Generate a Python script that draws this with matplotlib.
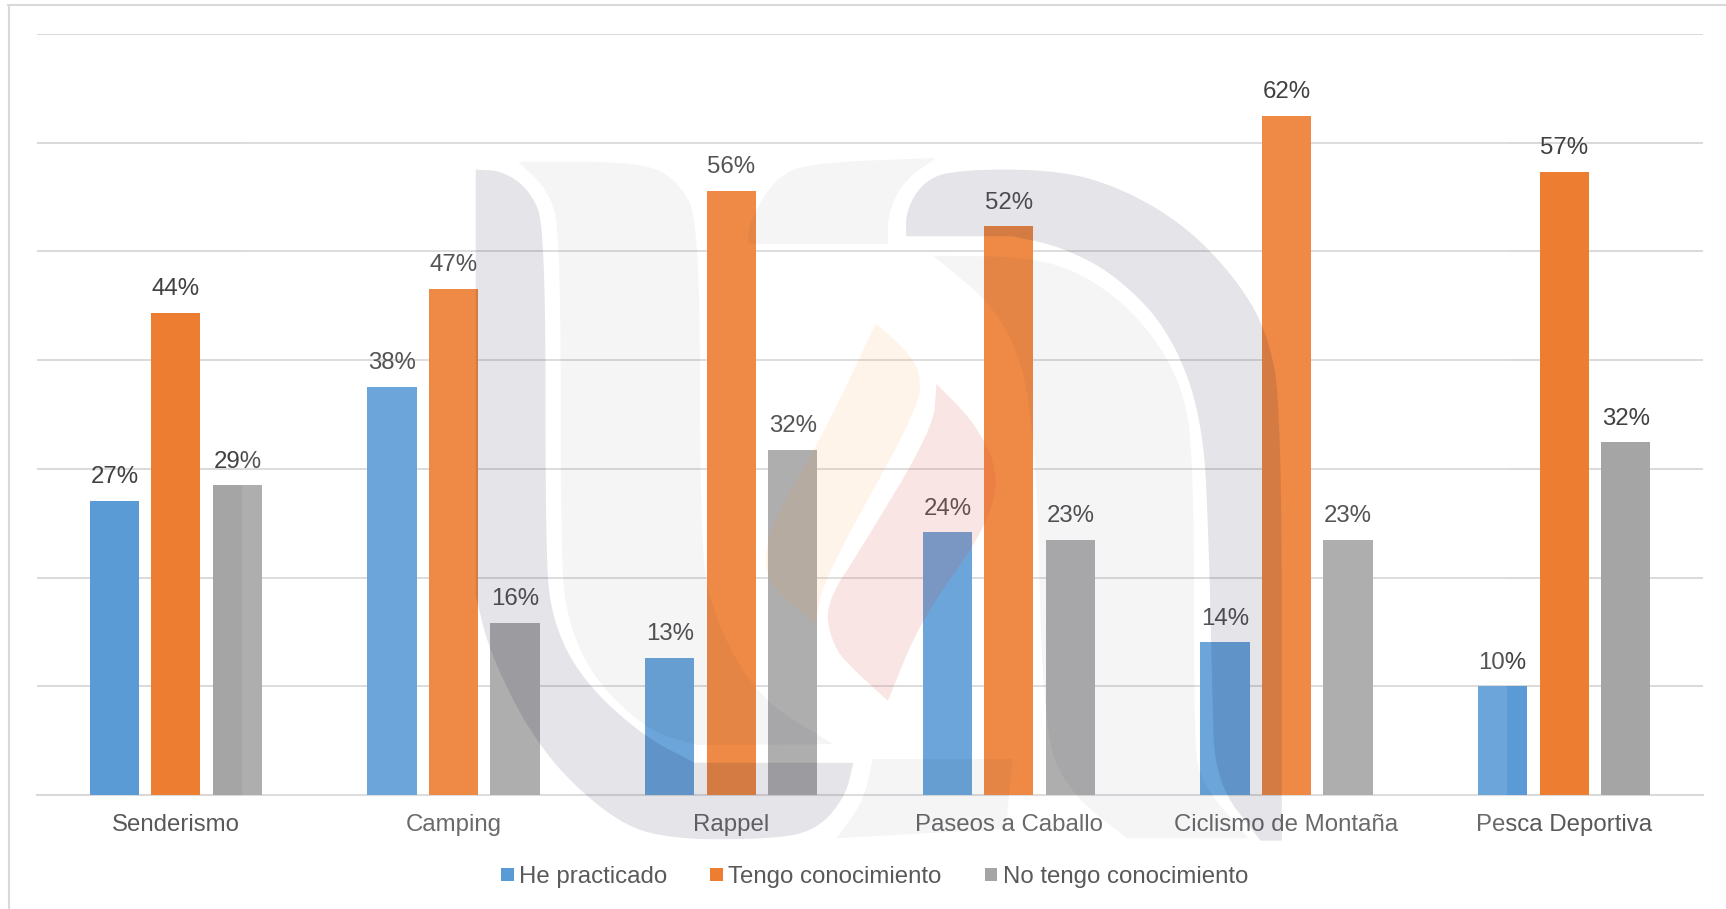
import numpy as np
import matplotlib
matplotlib.use("Agg")
import matplotlib.pyplot as plt
from matplotlib.patches import Polygon, Rectangle
from matplotlib.lines import Line2D

categories = ["Senderismo", "Camping", "Rappel", "Paseos a Caballo", "Ciclismo de Montaña", "Pesca Deportiva"]
series_names = ["He practicado", "Tengo conocimiento", "No tengo conocimiento"]
he_practicado = [27.05, 37.55, 12.6, 24.15, 14.05, 10.0]
tengo_conocimiento = [44.35, 46.55, 55.55, 52.3, 62.45, 57.35]
no_tengo = [28.5, 15.85, 31.75, 23.45, 23.45, 32.45]
he_labels = ["27%", "38%", "13%", "24%", "14%", "10%"]
tengo_labels = ["44%", "47%", "56%", "52%", "62%", "57%"]
no_labels = ["29%", "16%", "32%", "23%", "23%", "32%"]
colors = ["#5B9BD5", "#ED7D31", "#A5A5A5"]

W, H = 1726, 909
plt.rcParams["font.family"] = ["Liberation Sans", "DejaVu Sans"]
FS = 17.3

fig = plt.figure(figsize=(W / 100, H / 100), dpi=100, facecolor="white")
ax = fig.add_axes([37 / W, 1 - 795 / H, 1666 / W, 761 / H])

x = np.arange(len(categories))
pitch, bw = 0.2215, 0.1765
for i, (vals, labs) in enumerate(zip([he_practicado, tengo_conocimiento, no_tengo],
                                     [he_labels, tengo_labels, no_labels])):
    xs = x + (i - 1) * pitch
    ax.bar(xs, vals, bw, color=colors[i], zorder=3, label=series_names[i])
    for xi, v, t in zip(xs, vals, labs):
        ax.annotate(t, (xi, v), xytext=(0, 17.0), textcoords="offset points",
                    ha="center", va="center", fontsize=FS, color="#404040", zorder=4)

ax.set_xlim(-0.5, 5.5)
ax.set_ylim(0, 70)
ax.set_yticks(np.arange(0, 71, 10))
ax.set_yticklabels([])
ax.set_xticks(x)
ax.set_xticklabels(categories, fontsize=FS, color="#595959")
ax.tick_params(axis="both", length=0)
ax.tick_params(axis="x", pad=13.5)
ax.grid(axis="y", color="#D9D9D9", lw=1.4, zorder=0)
ax.set_axisbelow(True)
for s in ["top", "right", "left"]:
    ax.spines[s].set_visible(False)
ax.spines["bottom"].set_color("#D9D9D9")
ax.spines["bottom"].set_linewidth(1.5)

handles, labels = ax.get_legend_handles_labels()
leg = fig.legend(handles, labels, loc="center", bbox_to_anchor=(874.6 / W, 1 - 877 / H), ncol=3,
                 frameon=False, fontsize=FS, labelcolor="#595959", handlelength=0.52, handleheight=0.42,
                 handletextpad=0.22, columnspacing=1.8, borderpad=0, borderaxespad=0)
leg.set_zorder(6)

# outer frame of the chart
fig.add_artist(Line2D([8.5 / W, 8.5 / W], [0, 1 - 5 / H], color="#D9D9D9", lw=1.5, zorder=2))
fig.add_artist(Line2D([8 / W, 1], [1 - 5 / H, 1 - 5 / H], color="#D9D9D9", lw=1.5, zorder=2))


# background watermark: outlines, rounded off
def smooth(pts, rounds=3):
    p = np.array(pts, dtype=float)
    for _ in range(rounds):
        q = np.roll(p, -1, axis=0)
        p = np.column_stack([0.75 * p + 0.25 * q, 0.25 * p + 0.75 * q]).reshape(-1, 2)
    return p


def to_fig(pts):
    pts = np.array(pts, dtype=float)
    fx = (400 + pts[:, 0] / 1.65) / W
    fy = 1 - (130 + pts[:, 1] / 2.146) / H
    return np.column_stack([fx, fy])


def shape(pts, color, alpha):
    fig.add_artist(Polygon(to_fig(smooth(pts)), closed=True, transform=fig.transFigure, facecolor=color,
                           edgecolor="none", alpha=alpha, zorder=1))


fig.add_artist(Rectangle((242 / W, 1 - 860 / H), (1507 - 242) / W, 760 / H, transform=fig.transFigure,
                         facecolor="white", edgecolor="none", alpha=0.104, zorder=1))

tint = (0, 0, 50 / 255)
shape([(125, 85), (125, 85), (170, 88), (215, 130), (240, 210), (240, 900), (250, 1050), (300, 1180), (400, 1300),
       (485, 1357), (485, 1358), (748, 1358), (748, 1358), (735, 1430), (690, 1500), (620, 1522), (430, 1522), (340, 1470),
       (230, 1330), (150, 1130), (125, 1000), (125, 1000)], tint, 0.105)
shape([(835, 228), (835, 228), (835, 175), (860, 115), (910, 85), (1090, 85), (1200, 130), (1300, 210), (1380, 320),
       (1430, 430), (1455, 590), (1455, 1525), (1455, 1525), (1420, 1525), (1420, 1525), (1345, 1400), (1340, 1200), (1335, 900),
       (1325, 620), (1270, 430), (1180, 310), (1090, 250), (1010, 228), (1010, 228)], tint, 0.105)

shape([(195, 68), (195, 68), (400, 68), (460, 110), (495, 200), (495, 880), (515, 1040), (590, 1220), (715, 1318), (715, 1318),
       (490, 1320), (490, 1320), (410, 1290), (320, 1180), (275, 1050), (265, 900), (265, 220), (245, 130)], tint, 0.04)
shape([(575, 245), (575, 245), (575, 200), (620, 100), (680, 70), (885, 60), (885, 60), (830, 110), (805, 180), (805, 245), (805, 245)], tint, 0.04)
shape([(880, 270), (880, 270), (1040, 272), (1130, 310), (1220, 400), (1290, 540), (1310, 700), (1310, 1300),
       (1320, 1400), (1400, 1520), (1400, 1520), (1200, 1520), (1200, 1520), (1110, 1430), (1060, 1300), (1050, 620), (1000, 400)], tint, 0.04)
shape([(780, 1350), (780, 1350), (1010, 1350), (1010, 1350), (1000, 1500), (1000, 1500), (720, 1520), (720, 1520), (765, 1440)], tint, 0.04)

shape([(785, 415), (785, 415), (830, 465), (860, 520), (855, 600), (700, 960), (685, 1060), (685, 1060), (630, 1000), (600, 950),
       (610, 850), (700, 650)], (1.0, 150 / 255, 50 / 255), 0.1)
shape([(885, 545), (885, 545), (950, 630), (990, 740), (965, 860), (860, 1050), (805, 1225), (805, 1225), (750, 1160), (715, 1110),
       (700, 1020), (760, 900), (880, 640)], (220 / 255, 60 / 255, 60 / 255), 0.13)

fig.savefig("out.png", dpi=100, facecolor="white")
